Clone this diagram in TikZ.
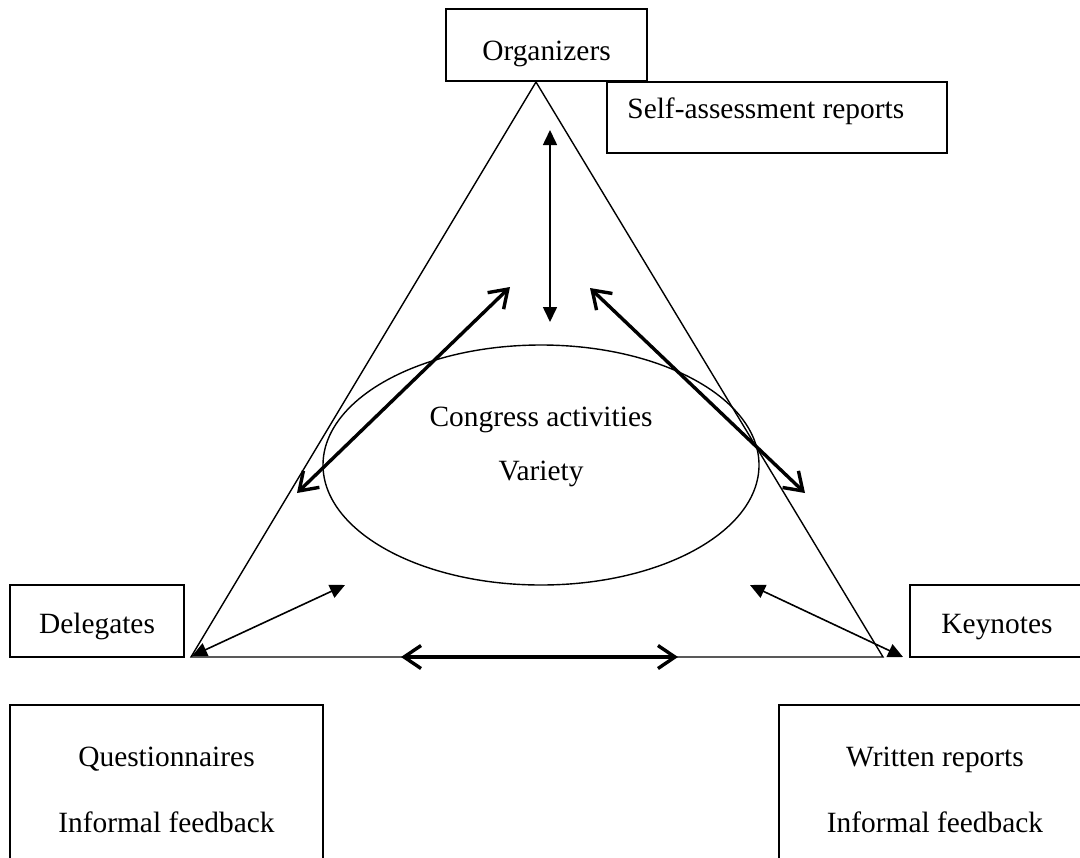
\documentclass[tikz,border=0pt]{standalone}
\usepackage{fontspec}
\setmainfont{Liberation Serif}
\usetikzlibrary{arrows.meta,shapes.geometric}
\tikzset{
	box/.style={draw, line width=0.7pt, inner sep=0pt},
	thinarr/.style={line width=0.8pt, {Triangle[length=7.5pt,width=7pt]}-{Triangle[length=7.5pt,width=7pt]}},
	thickarr/.style={line width=1.7pt, {Straight Barb[length=8.5pt,width=11.5pt]}-{Straight Barb[length=8.5pt,width=11.5pt]}}
}
\begin{document}
\begin{tikzpicture}[x=0.5pt,y=-0.5pt,font=\fontsize{14.7}{17}\selectfont]
		\useasboundingbox (0,0) rectangle (1080,857);
		\clip (0,0) rectangle (1080,857);
		% boxes
		\node[box, minimum width=100.5pt, minimum height=36pt, text height=18.5pt, text depth=3.5pt] (org) at (546.5,45) {Organizers};
		\node[box, minimum width=170pt, minimum height=35.5pt] (self) at (777,117.5) {};
		\node[anchor=west, inner sep=0pt] (selftxt) at (627,111) {Self-assessment reports};
		\node[box, minimum width=87pt, minimum height=36pt, text height=15.5pt, text depth=3.5pt] (del) at (97,621) {Delegates};
		\node[box, minimum width=87pt, minimum height=36pt, text height=15.5pt, text depth=3.5pt] (key) at (997,621) {Keynotes};
		\node[box, minimum width=156.5pt, minimum height=85pt, align=center, font=\fontsize{14.7}{33}\selectfont] (quest) at (166.5,790) {Questionnaires\\Informal feedback};
		\node[box, minimum width=156pt, minimum height=85pt, align=center, font=\fontsize{14.7}{33}\selectfont] (writ) at (935,790) {Written reports\\Informal feedback};
		\node[ellipse, draw, line width=0.7pt, minimum width=218pt, minimum height=120pt] (act) at (541,465) {};
		\node[align=center, font=\fontsize{14.7}{27}\selectfont] (acttxt) at (541,447) {Congress activities\\Variety};
		% triangle
		\coordinate (O) at (536,82);
		\coordinate (D) at (191,657);
		\coordinate (K) at (883,657);
		\draw[line width=0.7pt] (D)--(O)--(K)--cycle;
		% arrow ends
		\coordinate (v1) at (550,130);
		\coordinate (v2) at (550,322);
		\coordinate (d1) at (192,656);
		\coordinate (d2) at (345,585);
		\coordinate (k1) at (750,585);
		\coordinate (k2) at (903,657);
		\coordinate (l1) at (297,493);
		\coordinate (l2) at (510,287);
		\coordinate (r1) at (590,288);
		\coordinate (r2) at (805,493);
		\coordinate (b1) at (401,657);
		\coordinate (b2) at (678,657);
		\foreach \a/\b in {v1/v2,d1/d2,k1/k2} \draw[thinarr] (\a)--(\b);
		\foreach \a/\b in {l1/l2,r1/r2,b1/b2} \draw[thickarr] (\a)--(\b);
\end{tikzpicture}
\end{document}
